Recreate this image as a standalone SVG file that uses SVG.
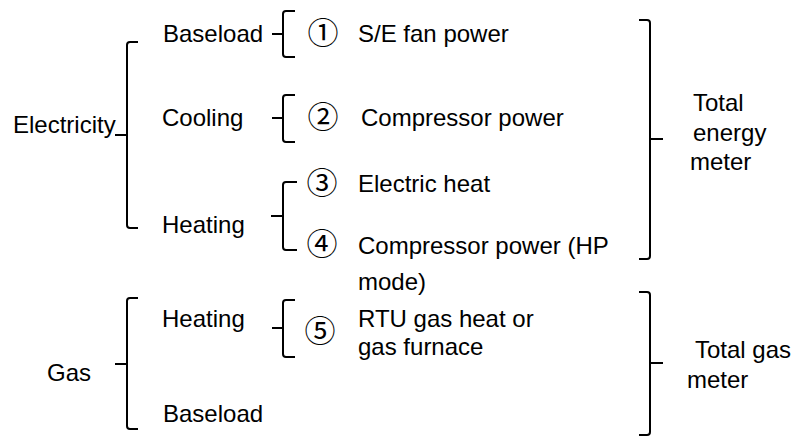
<svg xmlns="http://www.w3.org/2000/svg" width="798" height="437" viewBox="0 0 798 437">
<style>
text{font-family:"Liberation Sans",Arial,sans-serif;font-size:24px;fill:#000}
.n{font-family:"DejaVu Serif","Noto Sans CJK SC",serif;font-size:31px}
.b{fill:none;stroke:#000;stroke-width:2;stroke-linejoin:round}
</style>
<rect width="798" height="437" fill="#fff"/>
<g id="connectors">
<path class="b" d="M138 42 H130 Q127 42 127 45 V225 Q127 228 130 228 H138 M127 135 H115"/>
<path class="b" d="M295 11 H286 Q283 11 283 14 V54 Q283 57 286 57 H295 M283 34 H272"/>
<path class="b" d="M295 95 H286 Q283 95 283 98 V139 Q283 142 286 142 H295 M283 118 H272"/>
<path class="b" d="M297 182 H286 Q283 182 283 185 V247 Q283 250 286 250 H297 M283 216 H271"/>
<path class="b" d="M295 300 H286 Q283 300 283 303 V354 Q283 357 286 357 H295 M283 328 H272"/>
<path class="b" d="M138 298 H130 Q127 298 127 301 V426 Q127 429 130 429 H138 M127 364 H115"/>
<path class="b" d="M639 20 H647 Q650 20 650 23 V256 Q650 259 647 259 H639 M650 139 H663"/>
<path class="b" d="M639 292 H647 Q650 292 650 295 V432 Q650 435 647 435 H639 M650 363 H663"/>
</g>
<g id="electricity"><text x="13" y="133">Electricity</text></g>
<g id="gas"><text x="47" y="381">Gas</text></g>
<g id="e-baseload"><text x="163" y="42">Baseload</text></g>
<g id="e-cooling"><text x="162" y="126">Cooling</text></g>
<g id="e-heating"><text x="162" y="233">Heating</text></g>
<g id="g-heating"><text x="162" y="327">Heating</text></g>
<g id="g-baseload"><text x="163" y="422">Baseload</text></g>
<g id="item1"><text class="n" x="323" y="44" text-anchor="middle">①</text><text x="358" y="42">S/E fan power</text></g>
<g id="item2"><text class="n" x="323" y="128" text-anchor="middle">②</text><text x="361" y="126">Compressor power</text></g>
<g id="item3"><text class="n" x="322" y="194" text-anchor="middle">③</text><text x="358" y="192">Electric heat</text></g>
<g id="item4"><text class="n" x="322" y="255" text-anchor="middle">④</text><text x="358" y="254">Compressor power (HP</text><text x="358" y="290">mode)</text></g>
<g id="item5"><text class="n" x="320" y="342" text-anchor="middle">⑤</text><text x="358" y="327">RTU gas heat or</text><text x="358" y="355">gas furnace</text></g>
<g id="total-energy"><text x="693" y="111">Total</text><text x="693" y="141">energy</text><text x="690" y="170">meter</text></g>
<g id="total-gas"><text x="695" y="358">Total gas</text><text x="687" y="388">meter</text></g>
</svg>
